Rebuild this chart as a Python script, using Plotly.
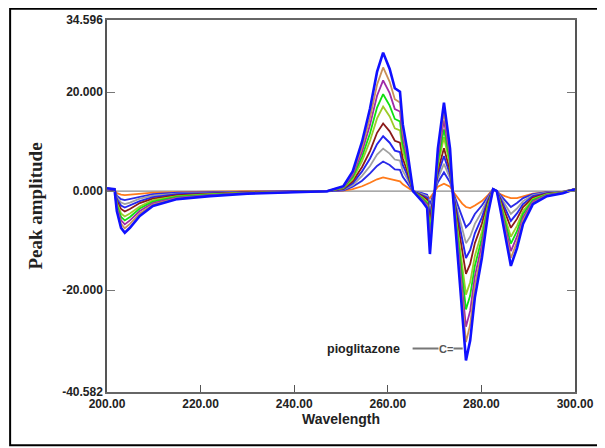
import plotly.graph_objects as go

wavelength = [200, 201.6, 202.1, 203.0, 203.8, 204.9, 207, 209.8, 215, 222, 230, 240, 247,
              250.5, 252.5, 254.5, 256.2, 257.7, 259.0, 260.4, 261.5, 262.6, 263.2, 264.1,
              265.4, 267.3, 268.4, 269.0, 270.1, 270.7, 272.0, 273.3, 273.9, 274.8, 275.9,
              276.7, 277.6, 278.6, 280.1, 281.4, 282.5, 283.3, 284.0, 285.0, 286.3, 287.6,
              288.9, 291.0, 294.0, 297.4, 300]

s_orange = [0.3, 0.2, -0.4, -0.7, -0.8, -0.7, -0.5, -0.3, -0.2, -0.1, 0.0, 0.0, 0.0, 0.1, 0.4, 1.0, 1.7,
            2.4, 2.8, 2.5, 2.2, 2.0, 1.4, 0.9, 0.0, -0.6, -1.0, -1.4, 0.2, 0.9, 1.5, 0.9, 0.0, -1.2,
            -2.5, -3.2, -3.4, -2.9, -2.0, -0.8, 0.4, 0.0, -0.6, -1.0, -1.4, -1.4, -1.0, -0.5, -0.2, -0.1, 0.4]
s_blue1 = [0.4, 0.3, -0.9, -1.6, -1.8, -1.6, -1.1, -0.6, -0.3, -0.2, -0.1, 0.0, 0.0, 0.2, 0.9, 2.1, 3.6,
           5.1, 6.0, 5.3, 4.4, 4.3, 2.9, 1.8, 0.0, -0.4, -0.7, -2.7, 0.0, 1.8, 3.8, 1.8, -0.1, -2.4,
           -5.3, -7.3, -6.4, -4.6, -2.9, -1.0, 0.4, 0.0, -0.7, -1.8, -3.2, -2.4, -1.4, -0.6, -0.2, -0.1, 0.4]
s_gray = [0.4, 0.3, -1.2, -2.3, -2.6, -2.3, -1.5, -0.9, -0.5, -0.3, -0.2, -0.1, 0.0, 0.3, 1.2, 3.1, 5.1,
          7.4, 8.6, 7.6, 6.4, 6.2, 4.1, 2.6, 0.0, -0.6, -1.0, -3.9, 0.0, 2.6, 5.5, 2.6, -0.2, -3.5,
          -7.6, -10.5, -9.2, -6.6, -4.1, -1.4, 0.4, 0.0, -1.0, -2.6, -4.6, -3.5, -2.0, -0.8, -0.3, -0.1, 0.4]
s_blue2 = [0.4, 0.3, -1.6, -2.9, -3.3, -2.9, -2.0, -1.2, -0.6, -0.4, -0.2, -0.1, 0.0, 0.4, 1.6, 4.0, 6.6,
           9.5, 11.1, 9.8, 8.2, 7.9, 5.3, 3.4, 0.0, -0.8, -1.3, -5.0, 0.0, 3.4, 7.1, 3.4, -0.2, -4.5,
           -9.8, -13.5, -11.9, -8.5, -5.3, -1.8, 0.4, 0.0, -1.3, -3.4, -6.0, -4.5, -2.6, -1.0, -0.4, -0.2, 0.4]
s_darkred = [0.4, 0.3, -2.0, -3.6, -4.1, -3.6, -2.4, -1.5, -0.8, -0.5, -0.2, -0.1, 0.0, 0.5, 2.0, 4.9, 8.1,
             11.8, 13.7, 12.1, 10.2, 9.8, 6.6, 4.2, 0.0, -1.0, -1.7, -6.2, 0.0, 4.2, 8.7, 4.2, -0.3, -5.6,
             -12.1, -16.7, -14.7, -10.5, -6.6, -2.2, 0.4, 0.0, -1.7, -4.2, -7.4, -5.6, -3.2, -1.3, -0.5, -0.2, 0.4]
s_ygreen = [0.5, 0.4, -2.4, -4.5, -5.1, -4.5, -3.1, -1.8, -1.0, -0.6, -0.3, -0.1, 0.0, 0.6, 2.4, 6.1, 10.2,
            14.7, 17.1, 15.1, 12.7, 12.3, 8.2, 5.2, 0.0, -1.2, -2.1, -7.7, 0.0, 5.2, 10.9, 5.2, -0.4, -7.0,
            -15.1, -20.9, -18.4, -13.1, -8.2, -2.8, 0.4, 0.0, -2.1, -5.2, -9.2, -7.0, -4.0, -1.6, -0.6, -0.2, 0.4]
s_green = [0.5, 0.4, -2.8, -5.2, -5.9, -5.2, -3.5, -2.1, -1.1, -0.7, -0.4, -0.1, 0.0, 0.7, 2.8, 7.0, 11.7,
           16.9, 19.6, 17.3, 14.6, 14.1, 9.5, 6.0, 0.0, -1.4, -2.4, -8.9, 0.0, 6.0, 12.5, 6.0, -0.4, -8.1,
           -17.3, -23.9, -21.1, -15.1, -9.5, -3.2, 0.4, 0.0, -2.4, -6.0, -10.6, -8.1, -4.6, -1.8, -0.7, -0.3, 0.4]
s_purple = [0.5, 0.4, -3.2, -5.9, -6.7, -5.9, -4.0, -2.4, -1.3, -0.8, -0.4, -0.2, 0.0, 0.8, 3.2, 8.0, 13.4,
            19.3, 22.4, 19.8, 16.6, 16.1, 10.8, 6.9, 0.0, -1.6, -2.7, -10.2, 0.0, 6.9, 14.3, 6.9, -0.5, -9.2,
            -19.8, -27.4, -24.2, -17.2, -10.8, -3.7, 0.4, 0.0, -2.7, -6.9, -12.1, -9.2, -5.3, -2.1, -0.8, -0.3, 0.4]
s_tan = [0.5, 0.4, -3.6, -6.6, -7.5, -6.6, -4.5, -2.7, -1.4, -0.9, -0.4, -0.2, 0.0, 0.9, 3.6, 8.9, 14.9,
         21.5, 25.0, 22.1, 18.6, 17.9, 12.1, 7.7, 0.0, -1.8, -3.0, -11.3, 0.0, 7.7, 16.0, 7.7, -0.5, -10.3,
         -22.1, -30.5, -27.0, -19.2, -12.1, -4.1, 0.4, 0.0, -3.0, -7.7, -13.5, -10.3, -5.9, -2.3, -0.9, -0.4, 0.4]
s_blue3 = [0.6, 0.4, -4.0, -7.4, -8.4, -7.4, -5.0, -3.0, -1.6, -1.0, -0.5, -0.2, 0.0, 1.0, 4.0, 10.0, 16.7,
           24.1, 28.0, 24.7, 20.8, 20.1, 13.5, 8.6, 0.0, -2.0, -3.4, -12.7, 0.0, 8.6, 17.9, 8.6, -0.6, -11.5,
           -24.7, -34.2, -30.2, -21.5, -13.5, -4.6, 0.4, 0.0, -3.4, -8.6, -15.1, -11.5, -6.6, -2.6, -1.0, -0.4, 0.4]

series = [s_orange, s_blue1, s_gray, s_blue2, s_darkred, s_ygreen, s_green, s_purple, s_tan, s_blue3]
colors = ["#ff7a1a", "#2a2ae8", "#a0a0a0", "#2424f0", "#8b1a1a", "#9ccc28", "#10e010",
          "#a02aa8", "#c89058", "#1010ff"]
widths = [1.8, 1.9, 1.8, 1.9, 1.8, 1.8, 1.8, 1.8, 1.8, 2.6]

x_ticks = [200, 220, 240, 260, 280, 300]
x_labels = ["200.00", "220.00", "240.00", "260.00", "280.00", "300.00"]
y_ticks = [-40.582, -20, 0, 20, 34.596]
y_labels = ["-40.582", "-20.000", "0.000", "20.000", "34.596"]

label_text = "pioglitazone"
label_pos = (254.9, -31.8)

fig = go.Figure()

# zero baseline
fig.add_trace(go.Scatter(x=[200, 300], y=[0, 0], mode="lines",
                         line=dict(color="#8c8c8c", width=1.2), hoverinfo="skip", showlegend=False))

for vals, c, w in zip(series, colors, widths):
    fig.add_trace(go.Scatter(x=wavelength, y=vals, mode="lines",
                             line=dict(color=c, width=w), showlegend=False))

# pointer line for label
fig.add_shape(type="line", x0=265.3, x1=276.0, y0=label_pos[1], y1=label_pos[1],
              line=dict(color="#777777", width=2))
fig.add_annotation(x=272.4, y=label_pos[1], text="C=", showarrow=False, bgcolor="white",
                   font=dict(family="Liberation Sans", size=11, color="#555555", weight="bold"),
                   borderpad=0)
fig.add_annotation(x=label_pos[0], y=label_pos[1], text=label_text, showarrow=False,
                   font=dict(family="Liberation Sans", size=12.5, color="#222222", weight="bold"))

# outer frame
fig.add_shape(type="rect", xref="paper", yref="paper", x0=-0.207, x1=1.058, y0=-0.143, y1=1.03,
              line=dict(color="black", width=2))

fig.update_layout(
    width=597, height=440,
    margin=dict(l=99, r=30, t=12, b=56, autoexpand=False),
    paper_bgcolor="white", plot_bgcolor="white",
    xaxis=dict(range=[200, 300], tickvals=x_ticks, ticktext=x_labels, automargin=False,
               showgrid=False, zeroline=False, showline=True, linecolor="#666666", linewidth=1.5,
               mirror=True, ticks="inside", ticklen=7, tickcolor="#555555",
               tickfont=dict(family="Liberation Sans", size=12, color="#222222", weight="bold"),
               title=dict(text="Wavelength", standoff=4,
                          font=dict(family="Liberation Sans", size=14, color="#222222", weight="bold"))),
    yaxis=dict(range=[-40.582, 34.596], tickvals=y_ticks, ticktext=y_labels, automargin=False,
               showgrid=False, zeroline=False, showline=True, linecolor="#555555", linewidth=1.5,
               mirror="ticks", ticks="inside", ticklen=8, tickcolor="#777777",
               tickfont=dict(family="Liberation Sans", size=12, color="#222222", weight="bold"),
               title=dict(text="Peak amplitude", standoff=14,
                          font=dict(family="Liberation Serif", size=19, color="#222222", weight="bold"))),
)

fig.write_html("out.html")
